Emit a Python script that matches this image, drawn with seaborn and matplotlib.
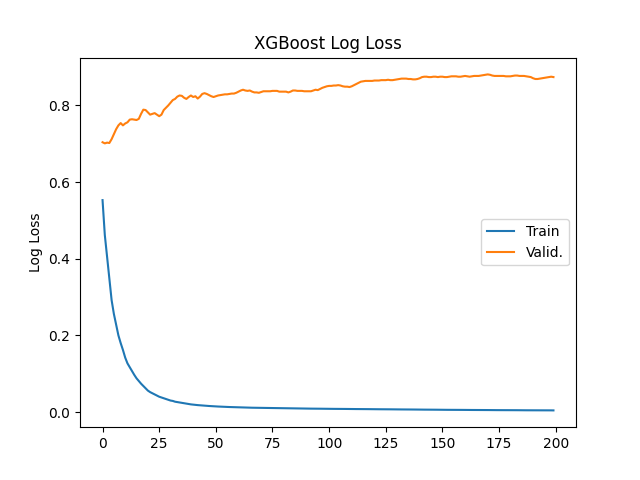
import matplotlib
matplotlib.use("Agg")
import matplotlib.pyplot as plt
import numpy as np
import seaborn as sns

# per-epoch log loss, 200 boosting rounds
train_loss = [
    0.553, 0.462, 0.405, 0.350, 0.292, 0.256, 0.228, 0.200, 0.180, 0.162,
    0.142, 0.127, 0.117, 0.107, 0.097, 0.088, 0.081, 0.074, 0.068, 0.062,
    0.056, 0.052, 0.049, 0.046, 0.043, 0.040, 0.038, 0.036, 0.034, 0.032,
    0.030, 0.029, 0.027, 0.026, 0.025, 0.024, 0.023, 0.022, 0.021, 0.020,
    0.0193, 0.0187, 0.0181, 0.0176, 0.0171, 0.0166, 0.0162, 0.0158, 0.0154, 0.0150,
    0.0147, 0.0144, 0.0141, 0.0138, 0.0135, 0.0133, 0.0131, 0.0129, 0.0127, 0.0125,
    0.0123, 0.0121, 0.0119, 0.0118, 0.0116, 0.0115, 0.0113, 0.0112, 0.0111, 0.0109,
    0.0108, 0.0107, 0.0106, 0.0105, 0.0104, 0.0103, 0.0102, 0.0101, 0.0100, 0.0099,
    0.0098, 0.0097, 0.0096, 0.0096, 0.0095, 0.0094, 0.0093, 0.0093, 0.0092, 0.0091,
    0.0091, 0.0090, 0.0089, 0.0089, 0.0088, 0.0087, 0.0087, 0.0086, 0.0086, 0.0085,
    0.0085, 0.0084, 0.0083, 0.0083, 0.0082, 0.0082, 0.0081, 0.0081, 0.0080, 0.0080,
    0.0079, 0.0079, 0.0078, 0.0078, 0.0077, 0.0077, 0.0076, 0.0076, 0.0075, 0.0075,
    0.0074, 0.0074, 0.0073, 0.0073, 0.0072, 0.0072, 0.0071, 0.0071, 0.0070, 0.0070,
    0.0069, 0.0069, 0.0068, 0.0068, 0.0067, 0.0067, 0.0066, 0.0066, 0.0065, 0.0065,
    0.0064, 0.0064, 0.0063, 0.0063, 0.0062, 0.0062, 0.0061, 0.0061, 0.0060, 0.0060,
    0.0059, 0.0059, 0.0058, 0.0058, 0.0058, 0.0057, 0.0057, 0.0056, 0.0056, 0.0056,
    0.0055, 0.0055, 0.0054, 0.0054, 0.0054, 0.0053, 0.0053, 0.0053, 0.0052, 0.0052,
    0.0052, 0.0051, 0.0051, 0.0051, 0.0050, 0.0050, 0.0050, 0.0049, 0.0049, 0.0049,
    0.0048, 0.0048, 0.0048, 0.0048, 0.0047, 0.0047, 0.0047, 0.0046, 0.0046, 0.0046,
    0.0046, 0.0045, 0.0045, 0.0045, 0.0045, 0.0044, 0.0044, 0.0044, 0.0044, 0.0043,
]

valid_loss = [
    0.704, 0.701, 0.703, 0.702, 0.712, 0.725, 0.738, 0.748, 0.754, 0.748,
    0.753, 0.756, 0.763, 0.764, 0.763, 0.762, 0.765, 0.778, 0.789, 0.788,
    0.782, 0.776, 0.778, 0.780, 0.776, 0.772, 0.776, 0.788, 0.794, 0.800,
    0.807, 0.814, 0.817, 0.823, 0.826, 0.825, 0.820, 0.817, 0.822, 0.826,
    0.822, 0.824, 0.818, 0.823, 0.830, 0.832, 0.830, 0.827, 0.824, 0.822,
    0.824, 0.826, 0.827, 0.828, 0.829, 0.829, 0.830, 0.831, 0.831, 0.833,
    0.836, 0.839, 0.841, 0.839, 0.838, 0.839, 0.836, 0.834, 0.834, 0.833,
    0.835, 0.837, 0.837, 0.837, 0.837, 0.838, 0.838, 0.838, 0.836, 0.836,
    0.836, 0.836, 0.834, 0.836, 0.839, 0.839, 0.838, 0.838, 0.838, 0.837,
    0.837, 0.837, 0.837, 0.839, 0.841, 0.840, 0.843, 0.846, 0.848, 0.850,
    0.851, 0.851, 0.852, 0.852, 0.853, 0.852, 0.850, 0.849, 0.849, 0.848,
    0.850, 0.853, 0.856, 0.859, 0.862, 0.863, 0.864, 0.864, 0.864, 0.864,
    0.865, 0.865, 0.865, 0.866, 0.866, 0.866, 0.867, 0.866, 0.866, 0.867,
    0.868, 0.869, 0.870, 0.870, 0.870, 0.869, 0.869, 0.868, 0.868, 0.869,
    0.871, 0.874, 0.875, 0.875, 0.874, 0.874, 0.875, 0.875, 0.874, 0.875,
    0.875, 0.874, 0.874, 0.875, 0.876, 0.876, 0.876, 0.875, 0.875, 0.876,
    0.877, 0.876, 0.875, 0.876, 0.877, 0.877, 0.877, 0.878, 0.879, 0.880,
    0.881, 0.880, 0.878, 0.877, 0.877, 0.877, 0.877, 0.877, 0.876, 0.876,
    0.876, 0.877, 0.878, 0.878, 0.877, 0.877, 0.877, 0.876, 0.875, 0.874,
    0.871, 0.869, 0.869, 0.870, 0.871, 0.872, 0.873, 0.874, 0.875, 0.874,
]

epochs = np.arange(len(train_loss))

fig, ax = plt.subplots(figsize=(6.4, 4.8), dpi=100)
sns.lineplot(x=epochs, y=train_loss, label="Train", color="#1f77b4", ax=ax)
sns.lineplot(x=epochs, y=valid_loss, label="Valid.", color="#ff7f0e", ax=ax)

ax.set_title("XGBoost Log Loss")
ax.set_ylabel("Log Loss")
ax.set_xlabel("")
ax.legend(loc="center right")

plt.savefig("out.png", dpi=100)
plt.close()
